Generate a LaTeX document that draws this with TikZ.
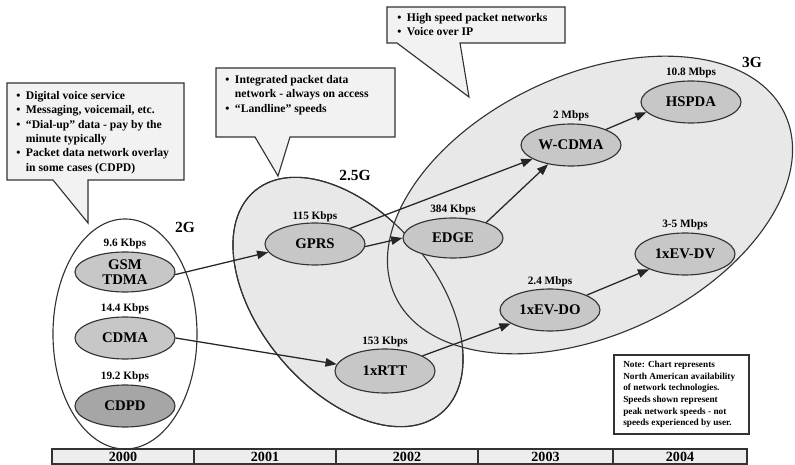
\documentclass[tikz,border=0pt]{standalone}
\usepackage{fontspec}
\setmainfont{Liberation Serif}
\usetikzlibrary{shapes.geometric,arrows.meta}
\tikzset{
	>={Triangle[length=8pt,width=6pt]},
	zone/.style={draw=black!80, ellipse, fill=black!9, inner sep=0pt, line width=0.8pt},
	tech/.style={draw=black!80, ellipse, fill=black!22, minimum width=2.5cm, minimum height=1.05cm, inner sep=0pt, align=center, line width=0.8pt, font=\fontsize{10.5}{10.7}\selectfont\bfseries},
	speed/.style={font=\fontsize{8}{9}\selectfont\bfseries, inner sep=0pt},
	gen/.style={font=\fontsize{11}{12}\selectfont\bfseries, inner sep=0pt},
	callout/.style={draw=black!80, fill=black!5, line width=0.8pt},
	bullets/.style={anchor=north west, inner sep=0pt, font=\fontsize{8.3}{10.2}\selectfont\bfseries},
	year/.style={draw=black!80, fill=black!7, minimum height=0.375cm, inner sep=0pt, line width=0.8pt, font=\fontsize{10}{10}\selectfont\bfseries},
}
\newcommand{\blist}[1]{\begin{tabular}{@{}l@{\hspace{4pt}}l@{}}#1\end{tabular}}
\begin{document}
\begin{tikzpicture}[x=0.025cm, y=-0.025cm]
			\useasboundingbox[fill=white] (0,0) rectangle (795,465);
			% generations
			\node	(g2) at (125,334) [zone, fill=white, minimum width=3.6cm, minimum height=5.75cm] {};
			\node	(g25) at (348,302) [zone, rotate=-50, minimum width=7.25cm, minimum height=4.4cm] {};
			\node	(g3) at (590,205) [zone, rotate=25, minimum width=10.75cm, minimum height=6.5cm] {};
			\node	(g25line) at (348,302) [zone, fill=none, rotate=-50, minimum width=7.25cm, minimum height=4.4cm] {};
			\node	(l2) at (185,227) [gen] {2G};
			\node	(l25) at (355,175) [gen] {2.5G};
			\node	(l3) at (752,62) [gen] {3G};
			% technologies
			\node	(gsm) at (125,272) [tech, minimum height=1cm] {GSM\\TDMA};
			\node	(cdma) at (125,338) [tech] {CDMA};
			\node	(cdpd) at (125,406) [tech, fill=black!35] {CDPD};
			\node	(gprs) at (315,244) [tech] {GPRS};
			\node	(rtt) at (385,371) [tech, minimum height=1.1cm] {1xRTT};
			\node	(edgen) at (453,238) [tech, minimum height=1cm] {EDGE};
			\node	(wcdma) at (571,145) [tech] {W-CDMA};
			\node	(hspda) at (691,102) [tech] {HSPDA};
			\node	(evdo) at (550,310) [tech] {1xEV-DO};
			\node	(evdv) at (685,254) [tech] {1xEV-DV};
			% speeds
			\node	(s-gsm) at (gsm.north) [speed, above=1.5pt] {9.6 Kbps};
			\node	(s-cdma) at (cdma.north) [speed, above=1.5pt] {14.4 Kbps};
			\node	(s-cdpd) at (cdpd.north) [speed, above=1.5pt] {19.2 Kbps};
			\node	(s-gprs) at (gprs.north) [speed, above=0.5pt] {115 Kbps};
			\node	(s-rtt) at (rtt.north) [speed, above=1pt] {153 Kbps};
			\node	(s-edge) at (edgen.north) [speed, above=1.5pt] {384 Kbps};
			\node	(s-wcdma) at (wcdma.north) [speed, above=1.5pt] {2 Mbps};
			\node	(s-hspda) at (hspda.north) [speed, above=1.5pt] {10.8 Mbps};
			\node	(s-evdo) at (evdo.north) [speed, above=1pt] {2.4 Mbps};
			\node	(s-evdv) at (evdv.north) [speed, above=1.5pt] {3-5 Mbps};
			\draw[line width=0.9pt, black!85]
			(gsm.-3) edge[->] (gprs.190)
			(cdma.east) edge[->] (rtt.172)
			(gprs.-3) edge[->] (edgen.west)
			(gprs.24) edge[->] (wcdma.200)
			(edgen.25) edge[->] (wcdma.220)
			(wcdma.24) edge[->] (hspda.193)
			(rtt.22) edge[->] (evdo.199)
			(evdo.22) edge[->] (evdv.203)
			;
			% callouts
			\draw[callout] (7,83) -- (184,83) -- (184,180) -- (88,180) -- (88,223) -- (53,180) -- (7,180) -- cycle;
			\node	(note2g) at (16,89) [bullets] {\blist{\textbullet & Digital voice service\\
				\textbullet & Messaging, voicemail, etc.\\
				\textbullet & “Dial-up” data - pay by the\\
				& minute typically\\
				\textbullet & Packet data network overlay\\
				& in some cases (CDPD)}};
			\draw[callout] (216,68) -- (395,68) -- (395,137) -- (290,137) -- (278,176) -- (255,137) -- (216,137) -- cycle;
			\node	(note25g) at (225,73) [bullets] {\blist{\textbullet & Integrated packet data\\
				& network - always on access\\
				\textbullet & “Landline” speeds}};
			\draw[callout] (387,7) -- (565,7) -- (565,43) -- (460,43) -- (469,97) -- (397,43) -- (387,43) -- cycle;
			\node	(note3g) at (397,11) [bullets] {\blist{\textbullet & High speed packet networks\\
				\textbullet & Voice over IP}};
			% note
			\draw[draw=black!80, fill=white, line width=0.8pt] (614,355) rectangle (749,434);
			\node	(notechart) at (623,361) [anchor=north west, inner sep=0pt, align=left, font=\fontsize{6.6}{8.25}\selectfont\bfseries] {Note: Chart represents\\North American availability\\of network technologies.\\Speeds shown represent\\peak network speeds - not\\speeds experienced by user.};
			% timeline
			\node	(y2000) at (123,456.5) [year, minimum width=3.55cm] {2000};
			\node	(y2001) at (265,456.5) [year, minimum width=3.55cm] {2001};
			\node	(y2002) at (407,456.5) [year, minimum width=3.55cm] {2002};
			\node	(y2003) at (545.5,456.5) [year, minimum width=3.375cm] {2003};
			\node	(y2004) at (680,456.5) [year, minimum width=3.35cm] {2004};
		\end{tikzpicture}
\end{document}
